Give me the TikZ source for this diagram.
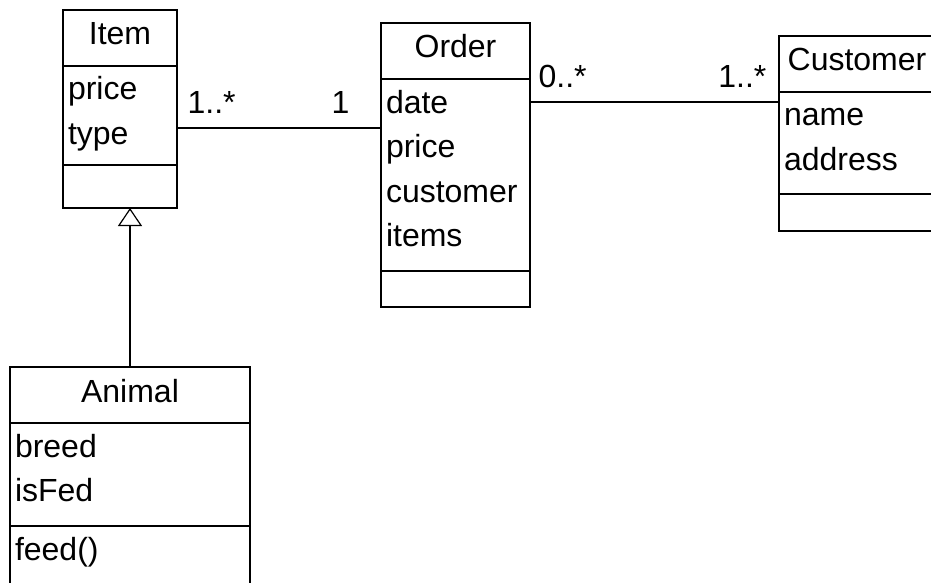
\documentclass[tikz,border=0pt]{standalone}
\usepackage{fontspec}
\setmainfont{Liberation Sans}
\usetikzlibrary{positioning, arrows.meta}

\tikzset{
  umlfont/.style={font=\fontsize{16pt}{22.25pt}\selectfont},
  classhead/.style={draw, umlfont, text width=#1, align=center, inner xsep=2.5pt, inner ysep=0pt, outer sep=0pt, text height=17.5pt, text depth=10.5pt},
  classattr/.style={draw, umlfont, text width=#1, align=left, inner xsep=2.5pt, inner ysep=0pt, outer sep=0pt, text height=17pt},
  classops/.style={draw, text width=#1, inner xsep=2.5pt, inner ysep=0pt, outer sep=0pt},
  mult/.style={umlfont, inner sep=0pt}
}

\begin{document}
\begin{tikzpicture}[x=0.5pt, y=-0.5pt, line width=0.6pt, node distance=0pt]
  \clip (0,0) rectangle (931,583);

  % Item
  \node[classhead=52pt, anchor=north west] (item) at (63,10) {Item};
  \node[classattr=52pt, text depth=32.5pt, below=of item] (itemattr) {price\\type};
  \node[classops=52pt, minimum height=21.5pt, below=of itemattr] (itemops) {};

  % Order
  \node[classhead=69.5pt, anchor=north west] (order) at (381,23) {Order};
  \node[classattr=69.5pt, text depth=79pt, below=of order] (orderattr) {date\\price\\customer\\items};
  \node[classops=69.5pt, minimum height=18pt, below=of orderattr] (orderops) {};

  % Customer
  \node[classhead=73pt, anchor=north west] (cust) at (779,36) {Customer};
  \node[classattr=73pt, text depth=34pt, below=of cust] (custattr) {name\\address};
  \node[classops=73pt, minimum height=18.5pt, below=of custattr] (custops) {};

  % Animal
  \node[classhead=115pt, anchor=north west] (animal) at (10,367) {Animal};
  \node[classattr=115pt, text depth=34.5pt, below=of animal] (animalattr) {breed\\isFed};
  \node[classattr=115pt, text depth=13pt, below=of animalattr] (animalops) {feed()};

  % associations
  \draw ([yshift=-6.25pt]itemattr.east) -- ([yshift=-6.25pt]itemattr.east -| orderattr.west)
    node[mult, pos=0, anchor=base west, xshift=5pt, yshift=7.5pt] (m1) {1..*}
    node[mult, pos=1, anchor=base east, xshift=-15.5pt, yshift=7.5pt] (m2) {1};
  \draw ([yshift=-11.5pt]orderattr.north east) -- ([yshift=-11.5pt]orderattr.north east -| cust.west)
    node[mult, pos=0, anchor=base west, xshift=4pt, yshift=7pt] (m3) {0..*}
    node[mult, pos=1, anchor=base east, xshift=-6pt, yshift=7pt] (m4) {1..*};

  % generalisation
  \draw[-{Triangle[open, length=9pt, width=12pt]}] (animal.north) -- (animal.north |- itemops.south);
\end{tikzpicture}
\end{document}
